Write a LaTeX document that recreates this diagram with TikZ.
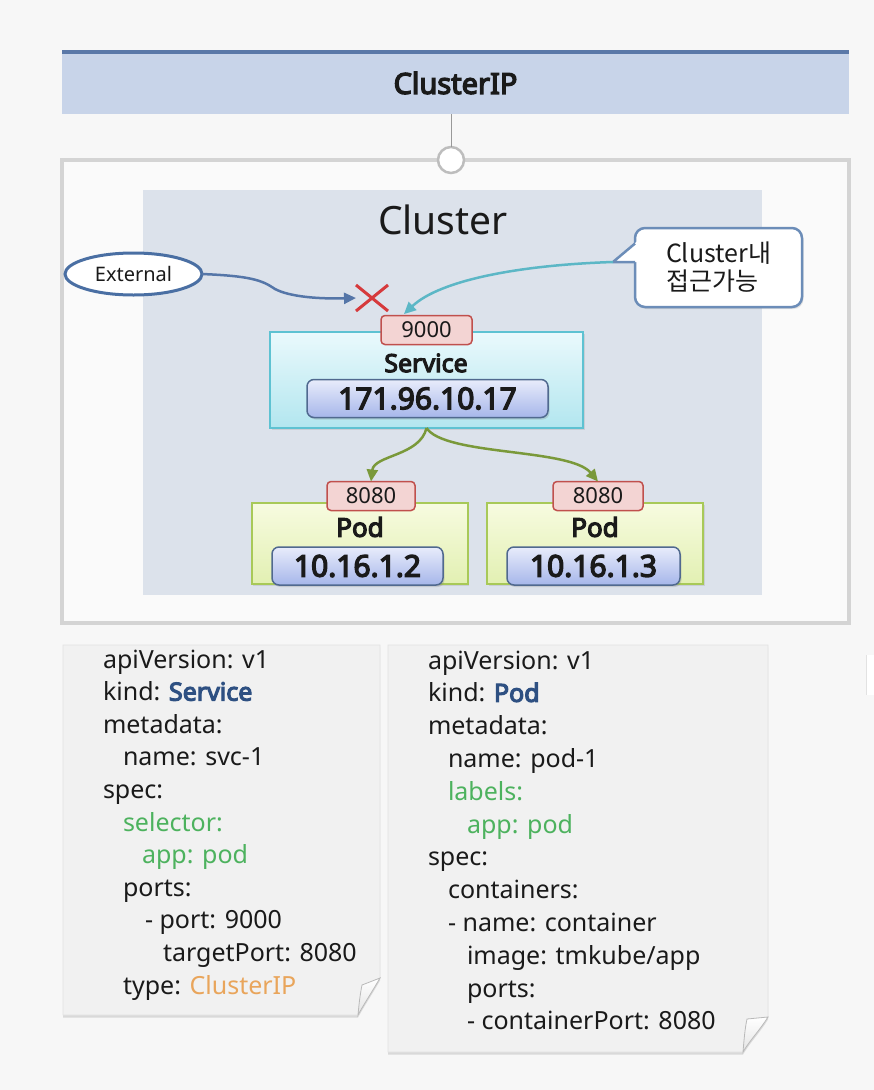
\documentclass[tikz,border=0pt]{standalone}
\usepackage{fontspec}
\setmainfont{Noto Sans}[BoldFont={Noto Sans},BoldFeatures={FakeBold=4.5}]
\newfontfamily\krfont{Noto Sans CJK KR}
\usetikzlibrary{arrows.meta,shapes.geometric,shadows}
\definecolor{pagebg}{HTML}{F7F7F7}
\definecolor{hdrfill}{HTML}{C8D4E9}
\definecolor{hdrline}{HTML}{5A78A8}
\definecolor{outerline}{HTML}{D4D4D4}
\definecolor{outerfill}{HTML}{FAFAFA}
\definecolor{clusterfill}{HTML}{DCE2EB}
\definecolor{connline}{HTML}{BDBDBD}
\definecolor{extline}{HTML}{4A6FA3}
\definecolor{bluearr}{HTML}{5576A8}
\definecolor{tealarr}{HTML}{5CB7C6}
\definecolor{greenarr}{HTML}{7A993A}
\definecolor{xred}{HTML}{D63A3C}
\definecolor{callline}{HTML}{6C8DB8}
\definecolor{svcline}{HTML}{5EC2D2}
\definecolor{svctop}{HTML}{EAF9FC}
\definecolor{svcbot}{HTML}{B2E6EF}
\definecolor{portline}{HTML}{C0504D}
\definecolor{portfill}{HTML}{F3D4D3}
\definecolor{ipline}{HTML}{50698F}
\definecolor{iptop}{HTML}{E8ECFB}
\definecolor{ipbot}{HTML}{A6B6EA}
\definecolor{podline}{HTML}{A8C958}
\definecolor{podtop}{HTML}{F7FBE0}
\definecolor{podbot}{HTML}{E2F0B2}
\definecolor{notefill}{HTML}{F1F1F1}
\definecolor{noteline}{HTML}{E2E2E2}
\definecolor{flapfill}{HTML}{E4E4E4}
\definecolor{kindblue}{HTML}{2E5082}
\definecolor{yamlgreen}{HTML}{4DB25E}
\definecolor{yamlorange}{HTML}{E9A55B}
\definecolor{txt}{HTML}{1A1A1A}
\newcommand\fsz[1]{\fontsize{#1}{#1}\selectfont}
\begin{document}
\begin{tikzpicture}[x=1pt,y=-1pt,
  every node/.style={inner sep=0pt, outer sep=0pt, text=txt},
  portbox/.style={draw=portline, fill=portfill, rounded corners=4pt, line width=1.5pt, minimum height=29pt, font=\fsz{22}},
  ipbox/.style={draw=ipline, top color=iptop, bottom color=ipbot, rounded corners=7pt, line width=1.5pt, minimum height=38pt, font=\bfseries\fsz{30},
     drop shadow={opacity=0.25, shadow xshift=1.5pt, shadow yshift=-2pt}},
  podbox/.style={draw=podline, top color=podtop, bottom color=podbot, line width=2pt, minimum width=216pt, minimum height=81pt,
     drop shadow={opacity=0.2, shadow xshift=1.5pt, shadow yshift=-2pt}},
  arr/.style={line width=2.5pt, -{Triangle[length=12pt,width=11pt]}},
  yaml/.style={anchor=base west, font=\fsz{25}},
  notebox/.style={fill=notefill, draw=noteline, line width=0.8pt, drop shadow={opacity=0.25, shadow xshift=0pt, shadow yshift=-2.5pt}},
  flap/.style={top color=white, bottom color=flapfill, draw=gray!55, line width=0.8pt}
]
\useasboundingbox (0,0) rectangle (874,1090);
\fill[pagebg] (0,0) rectangle (874,1090);
\fill[white] (866,655) rectangle (874,695);
\draw[noteline] (866,655) -- (866,695);

% header
\node[fill=hdrfill, minimum width=787pt, minimum height=62pt, font=\bfseries\fsz{29}] (hdr) at (455.5,83) {ClusterIP};
\draw[hdrline, line width=4pt] (hdr.north west) -- (hdr.north east);

% outer box and cluster
\node[draw=outerline, line width=4pt, fill=outerfill, minimum width=787pt, minimum height=463pt] (outer) at (455.5,391.5) {};
\node[fill=clusterfill, minimum width=619pt, minimum height=405pt] (cluster) at (452.5,392.5) {};
\node[font=\fsz{39}] (ctitle) at (443,220) {Cluster};

\node[circle, draw=connline, fill=white, line width=2.5pt, minimum size=26pt] (conn) at (451,160) {};
\draw[gray!80, line width=1pt] (conn.north) -- (conn.north |- hdr.south);

% external
\node[ellipse, draw=extline, line width=3pt, fill=white, minimum width=137pt, minimum height=42pt, font=\fsz{20}] (ext) at (133.5,274) {External};
\node[minimum width=32pt, minimum height=26pt] (xmark) at (372,298) {};
\draw[xred, line width=3pt] (xmark.north west) -- (xmark.south east) (xmark.north east) -- (xmark.south west);

% callout
\node[draw=callline, line width=2.5pt, fill=white, rounded corners=10pt, minimum width=167pt, minimum height=79pt,
  align=left, font=\krfont\fontsize{25}{28}\selectfont, drop shadow={opacity=0.2, shadow xshift=1.5pt, shadow yshift=-2pt}] (callout) at (718.5,267.5) {Cluster내\\접근가능};
\coordinate (tail) at (613,262);
\fill[white] (tail) -- (637.5,241) -- (637.5,262) -- cycle;
\draw[callline, line width=2.5pt, line join=round] (635,243.5) -- (tail) -- (635,262);

% service
\node[draw=svcline, top color=svctop, bottom color=svcbot, line width=2pt, minimum width=313pt, minimum height=96pt,
  drop shadow={opacity=0.2, shadow xshift=1.5pt, shadow yshift=-2pt}] (svc) at (426.5,380) {};
\node[font=\bfseries\fsz{25}] (svctitle) at (426,363) {Service};
\node[ipbox, minimum width=241pt] (svcip) at (427.5,398.5) {171.96.10.17};
\node[portbox, minimum width=91pt] (p9000) at (426.5,330) {9000};

% pods
\node[podbox] (poda) at (359.5,543.5) {};
\node[podbox] (podb) at (595,543.5) {};
\node[font=\bfseries\fsz{26}] (podatitle) at (360,527) {Pod};
\node[font=\bfseries\fsz{26}] (podbtitle) at (595,527) {Pod};
\node[ipbox, minimum width=171pt] (podaip) at (357.5,566) {10.16.1.2};
\node[ipbox, minimum width=173pt] (podbip) at (593.5,566) {10.16.1.3};
\node[portbox, minimum width=88pt] (pa) at (371,496) {8080};
\node[portbox, minimum width=90pt] (pb) at (598,496) {8080};

% connectors
\draw[arr, bluearr] (ext.east) .. controls (250,276) and (262,280) .. (275,289) .. controls (290,297) and (320,299) .. (xmark.west);
\draw[arr, tealarr, shorten >=2pt] (tail) .. controls (520,265) and (440,280) .. ([xshift=-24pt]p9000.north);
\draw[arr, greenarr] (svc.south) .. controls (420,456) and (374,455) .. (pa.north);
\draw[arr, greenarr] (svc.south) .. controls (445,456) and (570,448) .. (pb.north);

% left note
\path[notebox] (63,645) -- (380,645) -- (380,978) .. controls (372,992) and (364,1004) .. (358,1015) -- (63,1015) -- cycle;
\path[flap] (380,978) -- (362,985) .. controls (360,995) and (359,1004) .. (358,1015) .. controls (364,1004) and (372,992) .. cycle;
\node[yaml] (l1) at (103,668) {apiVersion: v1};
\node[yaml] (l2) at (103,700.6) {kind: \textcolor{kindblue}{\bfseries Service}};
\node[yaml] (l3) at (103,733.2) {metadata:};
\node[yaml] (l4) at (123,765.8) {name: svc-1};
\node[yaml] (l5) at (103,798.4) {spec:};
\node[yaml, text=yamlgreen] (l6) at (123,831) {selector:};
\node[yaml, text=yamlgreen] (l7) at (142,863.6) {app: pod};
\node[yaml] (l8) at (123,896.2) {ports:};
\node[yaml] (l9) at (145,928.8) {- port: 9000};
\node[yaml] (l10) at (163,961.4) {targetPort: 8080};
\node[yaml] (l11) at (123,994) {type: \textcolor{yamlorange}{ClusterIP}};

% right note
\path[notebox] (388,645) -- (768,645) -- (768,1017) .. controls (760,1030) and (750,1040) .. (743,1052) -- (388,1052) -- cycle;
\path[flap] (768,1017) -- (747,1019) .. controls (745,1028) and (744,1040) .. (743,1052) .. controls (750,1040) and (760,1030) .. cycle;
\node[yaml] (r1) at (428,669) {apiVersion: v1};
\node[yaml] (r2) at (428,701.8) {kind: \textcolor{kindblue}{\bfseries Pod}};
\node[yaml] (r3) at (428,734.6) {metadata:};
\node[yaml] (r4) at (448,767.4) {name: pod-1};
\node[yaml, text=yamlgreen] (r5) at (448,800.2) {labels:};
\node[yaml, text=yamlgreen] (r6) at (467,833) {app: pod};
\node[yaml] (r7) at (428,865.8) {spec:};
\node[yaml] (r8) at (448,898.6) {containers:};
\node[yaml] (r9) at (448,931.4) {- name: container};
\node[yaml] (r10) at (467,964.2) {image: tmkube/app};
\node[yaml] (r11) at (467,997) {ports:};
\node[yaml] (r12) at (467,1029.8) {- containerPort: 8080};
\end{tikzpicture}
\end{document}
